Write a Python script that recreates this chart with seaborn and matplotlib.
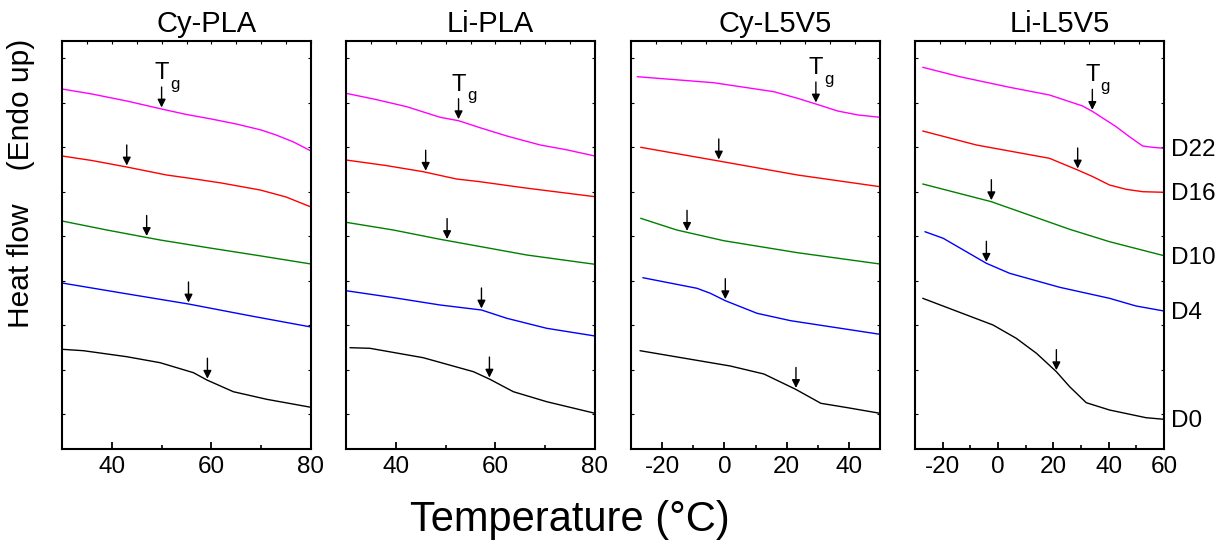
import numpy as np
import pandas as pd
import matplotlib
matplotlib.use("Agg")
import matplotlib.pyplot as plt
from matplotlib.ticker import MultipleLocator
import seaborn as sns

# heat flow readings (arbitrary units, offset curves), temperature in deg C
# --- Cy-PLA ---
cy_pla_d22_t = [30, 36, 43, 50, 55, 60, 65, 70, 73, 76.5, 80]
cy_pla_d22_y = [360, 355, 348, 340, 334.5, 330, 325, 319, 314, 307, 298]
cy_pla_d16_t = [30, 36, 43, 51, 56, 62, 69.8, 75, 80]
cy_pla_d16_y = [293, 288.5, 282, 274, 270.5, 266, 259, 252, 242]
cy_pla_d10_t = [30, 39, 49.7, 59.7, 70, 80]
cy_pla_d10_y = [228, 219, 209, 201, 193, 185]
cy_pla_d4_t = [30, 42, 55.4, 68, 80]
cy_pla_d4_y = [166, 156, 145, 133, 122]
cy_pla_d0_t = [30, 34.3, 43, 49.7, 56.4, 59.1, 64.4, 71.1, 80]
cy_pla_d0_y = [99.7, 98.3, 92.3, 86.3, 76.3, 69, 57.3, 49.7, 41.7]
cy_pla_tg = [59.2, 55.4, 47, 43, 50]  # D0, D4, D10, D16, D22

# --- Li-PLA ---
li_pla_d22_t = [30, 36, 42.2, 48.9, 52.6, 56.9, 62.3, 69, 74, 80]
li_pla_d22_y = [355.7, 349.5, 342.3, 331.7, 328.3, 321.3, 313, 304, 299.5, 293]
li_pla_d16_t = [30, 38, 45.5, 52.2, 56.9, 65.6, 80]
li_pla_d16_y = [289, 283.5, 277.3, 270, 267.3, 261.3, 252.3]
li_pla_d10_t = [30, 39.5, 48.9, 58.9, 66.3, 80]
li_pla_d10_y = [226.7, 219, 209.7, 200.7, 194, 184.7]
li_pla_d4_t = [30, 40, 48.9, 57.2, 62.3, 70.3, 80]
li_pla_d4_y = [158.3, 151, 144, 139, 130.7, 120.7, 113]
li_pla_d0_t = [30.8, 34.8, 45.5, 55.6, 58.9, 63.6, 70.3, 80]
li_pla_d0_y = [101.3, 100.7, 91.3, 77.3, 69.7, 57.3, 47.3, 35.7]
li_pla_tg = [58.8, 57.2, 50.3, 46, 52.6]

# --- Cy-L5V5 ---
cy_l5v5_d22_t = [-28, -3.5, 15.9, 23.5, 29.4, 36.4, 43, 50]
cy_l5v5_d22_y = [372.3, 366.3, 357.3, 350.7, 345, 338, 334, 331.7]
cy_l5v5_d16_t = [-26.9, -1.8, 23.5, 50]
cy_l5v5_d16_y = [301.7, 288, 274, 262.3]
cy_l5v5_d10_t = [-26.9, -15.3, -0.2, 23.5, 50]
cy_l5v5_d10_y = [230.7, 219, 208.3, 196.3, 185]
cy_l5v5_d4_t = [-26.2, -8.8, -4.5, 0.3, 10.5, 21.3, 50]
cy_l5v5_d4_y = [171.3, 160.7, 155.7, 148.3, 135.7, 128.3, 114.7]
cy_l5v5_d0_t = [-27.1, 1.9, 12.7, 22.9, 31, 39.6, 50]
cy_l5v5_d0_y = [98.3, 83, 75, 59.7, 45.7, 41.3, 35.7]
cy_l5v5_tg = [23, 0.3, -12, -1.8, 29.4]

# --- Li-L5V5 ---
li_l5v5_d22_t = [-27.2, -13.8, 4.2, 18.6, 30.6, 34.3, 42.7, 47.5, 52.3, 55.8, 60]
li_l5v5_d22_y = [381.7, 372.3, 361.7, 354, 343, 337.3, 322.3, 312.3, 303, 301.7, 300.7]
li_l5v5_d16_t = [-27.2, -7.8, 18.6, 28.8, 34.3, 40.3, 46.3, 52.3, 60]
li_l5v5_d16_y = [318, 304, 290.7, 279, 272.3, 264, 259.7, 257.3, 256.7]
li_l5v5_d10_t = [-27.2, -2.4, 25.9, 40.3, 60]
li_l5v5_d10_y = [265, 247.3, 219.7, 207.3, 193.3]
li_l5v5_d4_t = [-26.4, -19.8, -4.2, 4.2, 22.3, 40.3, 49.9, 60]
li_l5v5_d4_y = [217.3, 210.7, 185.7, 175.7, 161.7, 150.7, 143, 138]
li_l5v5_d0_t = [-27.2, -1.8, 6.6, 13.9, 21.1, 25.9, 31.9, 40.3, 53.5, 60]
li_l5v5_d0_y = [150.7, 124, 110.7, 95.7, 77.3, 62.3, 46.3, 39, 31.3, 29.7]
li_l5v5_tg = [21.1, -4.2, -2.4, 28.8, 34.1]

samples = ["D0", "D4", "D10", "D16", "D22"]
colors = ["black", "#0000FF", "#008000", "#FF0000", "#FF00FF"]
titles = ["Cy-PLA", "Li-PLA", "Cy-L5V5", "Li-L5V5"]
xlims = [(30, 80), (30, 80), (-30, 50), (-30, 60)]
xticks = [[40, 60, 80], [40, 60, 80], [-20, 0, 20, 40], [-20, 0, 20, 40, 60]]

panels = [
    [(cy_pla_d0_t, cy_pla_d0_y), (cy_pla_d4_t, cy_pla_d4_y), (cy_pla_d10_t, cy_pla_d10_y),
     (cy_pla_d16_t, cy_pla_d16_y), (cy_pla_d22_t, cy_pla_d22_y)],
    [(li_pla_d0_t, li_pla_d0_y), (li_pla_d4_t, li_pla_d4_y), (li_pla_d10_t, li_pla_d10_y),
     (li_pla_d16_t, li_pla_d16_y), (li_pla_d22_t, li_pla_d22_y)],
    [(cy_l5v5_d0_t, cy_l5v5_d0_y), (cy_l5v5_d4_t, cy_l5v5_d4_y), (cy_l5v5_d10_t, cy_l5v5_d10_y),
     (cy_l5v5_d16_t, cy_l5v5_d16_y), (cy_l5v5_d22_t, cy_l5v5_d22_y)],
    [(li_l5v5_d0_t, li_l5v5_d0_y), (li_l5v5_d4_t, li_l5v5_d4_y), (li_l5v5_d10_t, li_l5v5_d10_y),
     (li_l5v5_d16_t, li_l5v5_d16_y), (li_l5v5_d22_t, li_l5v5_d22_y)],
]
tgs = [cy_pla_tg, li_pla_tg, cy_l5v5_tg, li_l5v5_tg]

sns.set_theme(style="ticks")
plt.rcParams["font.family"] = ["Liberation Sans", "DejaVu Sans"]
plt.rcParams["axes.unicode_minus"] = False
for k in ["text.color", "axes.labelcolor", "xtick.color", "ytick.color", "axes.edgecolor"]:
    plt.rcParams[k] = "black"

fig = plt.figure(figsize=(12.28, 5.52), dpi=100)
lefts = [62, 346, 631, 915]
W, H = 1228, 552

for i in range(4):
    ax = fig.add_axes([lefts[i] / W, (H - 449) / H, 249 / W, 408 / H])
    for j, (t, y) in enumerate(panels[i]):
        df = pd.DataFrame({"T": t, "hf": y})
        sns.lineplot(data=df, x="T", y="hf", color=colors[j], lw=1.0, ax=ax,
                     estimator=None, sort=False)
        # Tg arrow pointing down onto the curve
        tg = tgs[i][j]
        yc = np.interp(tg, t, y)
        ax.annotate("", xy=(tg, yc + 1.5), xytext=(tg, yc + 22),
                    arrowprops=dict(arrowstyle="-|>", color="black", lw=1.0,
                                    mutation_scale=12, shrinkA=0, shrinkB=0))
        if samples[j] == "D22":
            ax.text(tg, yc + 30, "T", ha="center", va="baseline", fontsize=17)
            ax.annotate("g", xy=(tg, yc + 30), xytext=(6, -7), textcoords="offset points",
                        ha="left", va="baseline", fontsize=12)
        if i == 3:
            ax.annotate(samples[j], xy=(1, y[-1] - 2), xycoords=("axes fraction", "data"),
                        xytext=(5, 0), textcoords="offset points",
                        ha="left", va="center", fontsize=17.5)
    ax.set_xlim(*xlims[i])
    ax.set_ylim(0, 408)
    ax.set_xticks(xticks[i])
    ax.xaxis.set_minor_locator(MultipleLocator(10))
    ax.set_yticks(np.arange(35, 408, 44.5))
    ax.set_yticklabels([])
    ax.set_xlabel("")
    ax.set_ylabel("")
    ax.tick_params(axis="x", which="major", direction="in", length=5, width=1.3,
                   labelsize=17.5, pad=5)
    ax.tick_params(axis="x", which="minor", direction="in", length=3, width=1.2)
    ax.tick_params(axis="y", direction="in", length=2, width=0.8, left=True, right=True)
    for s in ax.spines.values():
        s.set_visible(True)
        s.set_linewidth(1.5)
        s.set_color("black")
    # evenly spaced unlabelled ticks along the top edge
    x0, x1 = xlims[i]
    sec = ax.secondary_xaxis("top", functions=(lambda v, a=x0, b=x1: (v - a) / (b - a),
                                               lambda f, a=x0, b=x1: a + f * (b - a)))
    sec.set_xticks(np.linspace(0, 1, 11))
    sec.tick_params(direction="in", length=2, width=0.8, labeltop=False)
    ax.text(0.58, 1 + 9.3 / 408, titles[i], transform=ax.transAxes,
            ha="center", va="baseline", fontsize=21)

fig.text(0.464, 0.058, "Temperature (°C)", ha="center", va="center", fontsize=30)
fig.text(0.017, 0.668, "Heat flow    (Endo up)", ha="center", va="center",
         rotation=90, fontsize=21.5)

fig.savefig("out.png", dpi=100)
